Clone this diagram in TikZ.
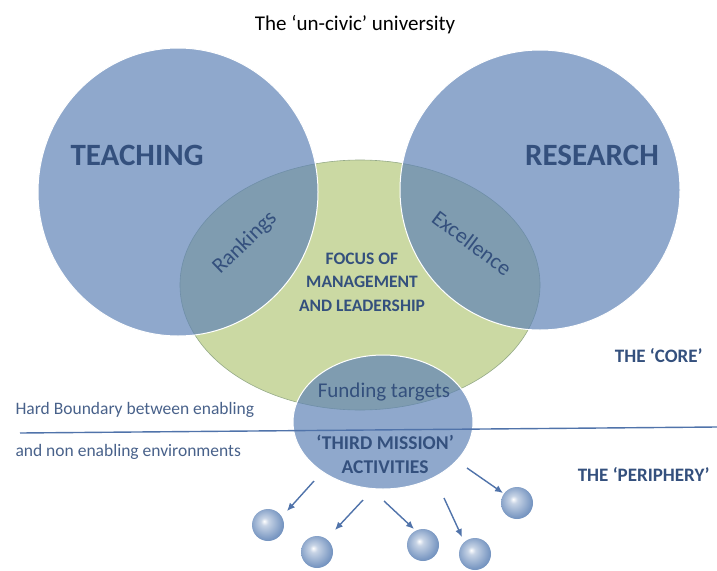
\documentclass[tikz,border=0pt]{standalone}
\usepackage{fontspec}
\setmainfont{Carlito}
\usetikzlibrary{arrows.meta,positioning,shapes.geometric}
\definecolor{bluefill}{RGB}{95,131,182}
\definecolor{greenfill}{RGB}{190,208,140}
\definecolor{darkblue}{RGB}{52,80,125}
\definecolor{linkblue}{RGB}{80,115,170}
\pgfdeclareradialshading{softball}{\pgfpoint{-6bp}{6bp}}{color(0bp)=(white);
  color(6bp)=(bluefill!35!white); color(18bp)=(bluefill!65!white); color(26bp)=(bluefill!85!white); color(50bp)=(bluefill)}

\begin{document}
\begin{tikzpicture}[x=1pt,y=-1pt,
blob/.style={ellipse,draw=white,line width=1pt,fill=bluefill,fill opacity=0.7,inner sep=0pt},
core/.style={ellipse,draw=greenfill!70!darkblue,line width=0.6pt,fill=greenfill,fill opacity=0.8,inner sep=0pt},
ball/.style={circle,shading=softball,minimum size=32pt,inner sep=0pt},
big/.style={font=\bfseries\fontsize{31}{31}\selectfont,text=darkblue},
lbl/.style={font=\fontsize{22}{22}\selectfont,text=darkblue},
caps/.style={font=\bfseries\fontsize{17.5}{23.5}\selectfont,text=darkblue,align=center},
side/.style={font=\fontsize{17.5}{17.5}\selectfont,text=darkblue!90},
arr/.style={-{Latex[length=8pt,width=7pt]},line width=1.4pt,draw=linkblue}]
\useasboundingbox (0,0) rectangle (717,570);
\node[font=\fontsize{21}{21}\selectfont] (title) at (355,25) {The ‘un-civic’ university};
% circles
\node[core,minimum width=360pt,minimum height=250pt] (focus) at (360,285) {};
\node[blob,minimum width=280pt,minimum height=288pt] (teach) at (178,192) {};
\node[blob,minimum width=280pt,minimum height=280pt] (res) at (540,190) {};
\node[blob,minimum width=180pt,minimum height=134pt] (third) at (383,422) {};
% boundary
\coordinate (bl) at (20,433);
\coordinate (br) at (717,427);
\draw[linkblue,line width=1.4pt] (bl) -- (br);
% texts
\node[big] (teachtxt) at (137,155) {TEACHING};
\node[big] (restxt) at (592,155) {RESEARCH};
\node[lbl,rotate=44] (rank) at (245,243) {Rankings};
\node[lbl,rotate=-37] (excel) at (472,243) {Excellence};
\node[caps] (mgmt) at (362,282) {FOCUS OF\\MANAGEMENT\\AND LEADERSHIP};
\node[lbl,font=\fontsize{21}{21}\selectfont] (fund) at (384,392) {Funding targets};
\node[caps,font=\bfseries\fontsize{19.5}{24}\selectfont] (tm) at (385,454) {‘THIRD MISSION’\\ACTIVITIES};
\node[caps,font=\bfseries\fontsize{19}{19}\selectfont,anchor=east] (coretxt) at (706,356) {THE ‘CORE’};
\node[caps,font=\bfseries\fontsize{19}{19}\selectfont,anchor=east] (peri) at (713,474) {THE ‘PERIPHERY’};
\node[side,anchor=west] (hb1) at (12,410) {Hard Boundary between enabling};
\node[side,anchor=west] (hb2) at (12,452) {and non enabling environments};
% periphery
\node[ball] (b1) at (268,525) {};
\node[ball] (b2) at (317,552) {};
\node[ball] (b3) at (423,545) {};
\node[ball] (b4) at (475,554) {};
\node[ball] (b5) at (517,503) {};
\coordinate (s1) at (314,481);
\coordinate (s2) at (363,500);
\coordinate (s3) at (384,501);
\coordinate (s4) at (444,498);
\coordinate (s5) at (467,468);
\draw[arr] (s1) -- (287,511);
\draw[arr] (s2) -- (335,530);
\draw[arr] (s3) -- (414,529);
\draw[arr] (s4) -- (462,537);
\draw[arr] (s5) -- (503,493);
\end{tikzpicture}
\end{document}
